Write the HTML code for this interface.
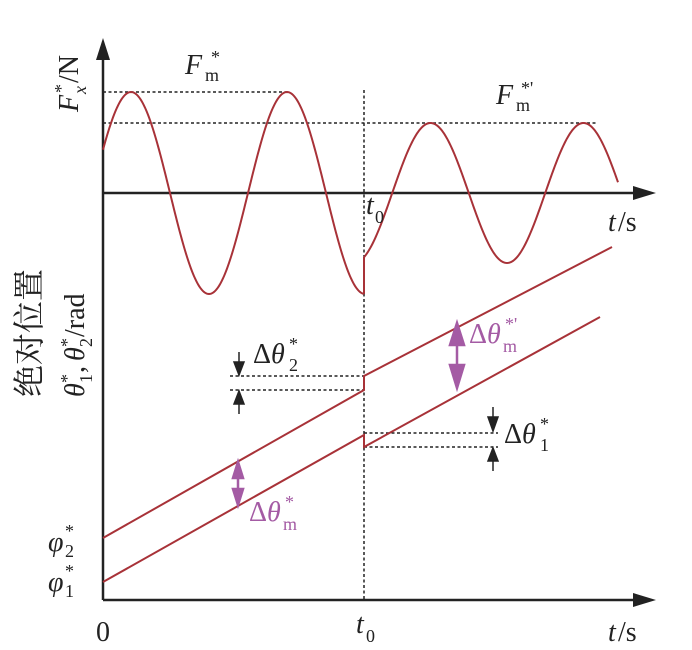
<!DOCTYPE html>
<html><head><meta charset="utf-8"><style>
html,body{margin:0;padding:0;background:#fff;width:692px;height:650px;overflow:hidden}
svg text{font-family:"Liberation Serif","Noto Serif CJK SC",serif}
</style></head><body>
<svg id="s" width="692" height="650" viewBox="0 0 692 650" xmlns="http://www.w3.org/2000/svg">
<!-- axes -->
<line x1="103" y1="600" x2="103" y2="58" stroke="#222" stroke-width="2.5"/>
<path d="M96,60 L103,38 L110,60 Z" fill="#222"/>
<line x1="103" y1="193" x2="635" y2="193" stroke="#222" stroke-width="2.5"/>
<path d="M633,186 L656,193 L633,200 Z" fill="#222"/>
<line x1="103" y1="600" x2="635" y2="600" stroke="#222" stroke-width="2.5"/>
<path d="M633,593 L656,600 L633,607 Z" fill="#222"/>
<!-- dotted -->
<g stroke="#222" stroke-width="1.5" stroke-dasharray="3,2.5" fill="none">
<line x1="364" y1="90" x2="364" y2="600"/>
<line x1="103" y1="92" x2="290" y2="92"/>
<line x1="103" y1="123" x2="598" y2="123"/>
<line x1="230" y1="376" x2="364" y2="376"/>
<line x1="230" y1="390" x2="364" y2="390"/>
<line x1="364" y1="433" x2="498" y2="433"/>
<line x1="364" y1="447" x2="498" y2="447"/>
</g>
<!-- curves -->
<g stroke="#a83238" stroke-width="2" fill="none">
<path id="w1"/>
<path id="w2"/>
<line x1="364" y1="294" x2="364" y2="257"/>
<path d="M103,538 L364,390 L364,376 L612,247"/>
<path d="M103,582 L364,435 L364,447 L600,317"/>
</g>
<!-- black arrows -->
<g fill="#222" stroke="#222" stroke-width="1.5">
<line x1="239" y1="352" x2="239" y2="362"/><path d="M234,362 L244,362 L239,375 Z"/>
<line x1="239" y1="404" x2="239" y2="414"/><path d="M234,404 L244,404 L239,391 Z"/>
<line x1="493" y1="407" x2="493" y2="417"/><path d="M488,417 L498,417 L493,431 Z"/>
<line x1="493" y1="461" x2="493" y2="471"/><path d="M488,461 L498,461 L493,448 Z"/>
</g>
<!-- purple arrows -->
<g fill="#a45ba4" stroke="#a45ba4" stroke-width="2.5">
<line x1="457" y1="340" x2="457" y2="370"/>
<path d="M450,345 L464,345 L457,323 Z"/><path d="M450,365 L464,365 L457,388 Z"/>
<line x1="238" y1="475" x2="238" y2="492"/>
<path d="M233,478 L243,478 L238,462 Z"/><path d="M233,489 L243,489 L238,505 Z"/>
</g>
<!-- labels -->
<g font-size="28" fill="#222">
<text x="185" y="74" font-style="italic">F</text><text x="205" y="81" font-size="18">m</text><text x="211" y="63" font-size="18">*</text>
<text x="496" y="104" font-style="italic">F</text><text x="516" y="111" font-size="18">m</text><text x="521" y="94" font-size="18">*'</text>
<text x="366" y="214" font-style="italic">t</text><text x="375" y="223" font-size="18">0</text>
<text x="608" y="231" font-style="italic">t</text><text x="618" y="231">/s</text>
<text x="608" y="641" font-style="italic">t</text><text x="618" y="641">/s</text>
<text x="356" y="633" font-style="italic">t</text><text x="366" y="642" font-size="18">0</text>
<text x="96" y="641">0</text>
<text x="48" y="551" font-style="italic">φ</text><text x="65" y="557" font-size="18">2</text><text x="65" y="537" font-size="18">*</text>
<text x="48" y="591" font-style="italic">φ</text><text x="65" y="597" font-size="18">1</text><text x="65" y="577" font-size="18">*</text>
<text x="253" y="363">Δ<tspan font-style="italic">θ</tspan></text><text x="289" y="371" font-size="18">2</text><text x="289" y="350" font-size="18">*</text>
<text x="504" y="443">Δ<tspan font-style="italic">θ</tspan></text><text x="540" y="451" font-size="18">1</text><text x="540" y="430" font-size="18">*</text>
<g fill="#a45ba4">
<text x="469" y="343">Δ<tspan font-style="italic">θ</tspan></text><text x="503" y="352" font-size="18">m</text><text x="505" y="330" font-size="18">*'</text>
<text x="249" y="521">Δ<tspan font-style="italic">θ</tspan></text><text x="283" y="530" font-size="18">m</text><text x="285" y="508" font-size="18">*</text>
</g>
<g transform="translate(78,112) rotate(-90)"><text x="0" y="0" font-style="italic">F</text><text x="18" y="8" font-size="18" font-style="italic">x</text><text x="19" y="-11" font-size="18">*</text><text x="29" y="0">/N</text></g>
<g transform="translate(40,397) rotate(-90)"><text x="0" y="0" font-size="32" font-family="Noto Serif CJK SC, serif">绝对位置</text></g>
<g transform="translate(84,397) rotate(-90)"><text x="0" y="0" font-style="italic">θ</text><text x="14" y="8" font-size="18">1</text><text x="14" y="-11" font-size="18">*</text><text x="24" y="0">, </text><text x="36" y="0" font-style="italic">θ</text><text x="50" y="8" font-size="18">2</text><text x="50" y="-11" font-size="18">*</text><text x="60" y="0">/rad</text></g>
</g>
</svg>
<script>
function w(a,b,f){var d="";for(var x=a;x<=b;x+=1){d+=(x==a?"M":"L")+x+","+f(x).toFixed(2)+" ";}return d;}
document.getElementById("w1").setAttribute("d",w(103,364,function(x){return 193-101*Math.cos(2*Math.PI*(x-131)/156);}));
document.getElementById("w2").setAttribute("d",w(364,618,function(x){return 193+70*Math.cos(2*Math.PI*(x-354)/153);}));
</script>
</body></html>
